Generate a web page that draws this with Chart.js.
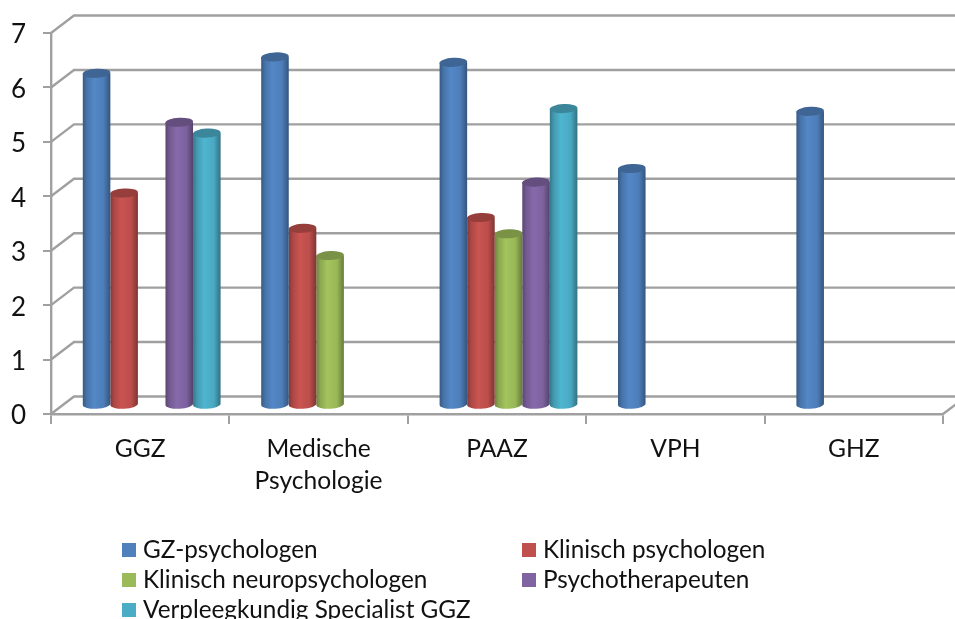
<!DOCTYPE html>
<html>
<head>
<meta charset="utf-8">
<script src="https://cdn.jsdelivr.net/npm/chart.js@4"></script>
<style>
    html, body { margin: 0; padding: 0; background: #fff; overflow: hidden; }
    #wrap { position: relative; width: 955px; height: 619px; overflow: hidden; }
    #legend span { position: absolute; font: 24.3px Lato, sans-serif; color: #111; line-height: 30px; white-space: nowrap; }
    #legend i { position: absolute; width: 14px; height: 14px; }
</style>
</head>
<body>
<div id="wrap">
    <canvas id="chart" width="955" height="619"></canvas>
    <div id="legend"></div>
</div>
<script>
const categories = [["GGZ"], ["Medische", "Psychologie"], ["PAAZ"], ["VPH"], ["GHZ"]];
const seriesNames = ["GZ-psychologen", "Klinisch psychologen", "Klinisch neuropsychologen", "Psychotherapeuten", "Verpleegkundig Specialist GGZ"];
const gzPsychologen = [6.1, 6.4, 6.3, 4.35, 5.4];
const klinischPsychologen = [3.9, 3.25, 3.45, null, null];
const klinischNeuro = [null, 2.75, 3.15, null, null];
const psychotherapeuten = [5.2, null, 4.1, null, null];
const verpleegkundig = [5.0, null, 5.45, null, null];
const seriesColors = ["#4F81BD", "#C0504D", "#9BBB59", "#8064A2", "#4BACC6"];

const allValues = [gzPsychologen, klinischPsychologen, klinischNeuro, psychotherapeuten, verpleegkundig];

// fake 3D depth of the old Excel chart
const depthX = 23, depthY = 17.5;
const gridColor = "#a0a0a0";

function shade(hex, f) {
    let n = parseInt(hex.slice(1), 16);
    let c = [n >> 16, (n >> 8) & 255, n & 255].map(v => Math.min(255, Math.round(v * f)));
    return `rgb(${c.join(",")})`;
}

const wallPlugin = {
    id: "wall",
    beforeDatasetsDraw(chart) {
        let { ctx, scales, chartArea } = chart;
        let y = scales.y;
        ctx.save();
        ctx.strokeStyle = gridColor;
        ctx.lineWidth = 2.4;
        y.ticks.forEach(t => {
            let py = y.getPixelForValue(t.value);
            ctx.beginPath();
            ctx.moveTo(chartArea.left, py);
            ctx.lineTo(chartArea.left + depthX, py - depthY);
            ctx.lineTo(chart.width, py - depthY);
            ctx.stroke();
        });
        let py0 = y.getPixelForValue(0);
        ctx.beginPath();
        ctx.moveTo(chartArea.right, py0);
        ctx.lineTo(chartArea.right + 16, py0 - 12);
        ctx.stroke();
        ctx.restore();
    }
};

const cylinderPlugin = {
    id: "cylinder",
    beforeDatasetDraw(chart, args) {
        let { ctx } = chart;
        let color = seriesColors[args.index];
        ctx.save();
        ctx.translate(depthX / 2, -depthY / 2);
        args.meta.data.forEach((bar, i) => {
            if (chart.data.datasets[args.index].data[i] == null) return;
            let left = bar.x - bar.width / 2, right = bar.x + bar.width / 2;
            let rx = bar.width / 2, ry = 4.5, tilt = -0.05;
            let g = ctx.createLinearGradient(left, 0, right, 0);
            g.addColorStop(0, shade(color, 0.7));
            g.addColorStop(0.15, shade(color, 0.9));
            g.addColorStop(0.4, shade(color, 1.05));
            g.addColorStop(0.75, shade(color, 0.98));
            g.addColorStop(1, shade(color, 0.66));
            ctx.fillStyle = g;
            ctx.beginPath();
            ctx.moveTo(left, bar.y);
            ctx.lineTo(left, bar.base);
            ctx.ellipse(bar.x, bar.base, rx, ry, tilt, Math.PI, 0, true);
            ctx.lineTo(right, bar.y);
            ctx.closePath();
            ctx.fill();
            ctx.fillStyle = shade(color, 0.78);
            ctx.beginPath();
            ctx.ellipse(bar.x, bar.y, rx, ry, tilt, 0, Math.PI * 2);
            ctx.fill();
        });
        ctx.restore();
        return false;
    }
};

const chart = new Chart(document.getElementById("chart").getContext("2d"), {
    type: "bar",
    data: {
        labels: categories,
        datasets: seriesNames.map((name, i) => ({
            label: name,
            data: allValues[i],
            backgroundColor: seriesColors[i],
            categoryPercentage: 0.7725,
            barPercentage: 1
        }))
    },
    options: {
        responsive: false,
        animation: false,
        layout: { padding: { top: 33, right: 12, left: 0, bottom: 0 } },
        plugins: { legend: { display: false }, tooltip: { enabled: false } },
        scales: {
            x: {
                afterFit: s => { s.height = 205; },
                border: { color: gridColor, width: 2.4 },
                grid: { drawOnChartArea: false, color: gridColor, lineWidth: 2, tickLength: 10 },
                ticks: {
                    color: "#111",
                    padding: 9,
                    maxRotation: 0,
                    font: { family: "Lato", size: 24.6, lineHeight: 1.3 }
                }
            },
            y: {
                min: 0,
                max: 7,
                afterFit: s => {
                    s.width = 51;
                    // Lato sits a little high, push the digits down to match
                    if (!s.shiftedLabels) {
                        s.shiftedLabels = true;
                        let drawLabels = s.drawLabels;
                        s.drawLabels = function (area) {
                            this.ctx.save();
                            this.ctx.translate(0, 2);
                            drawLabels.call(this, area);
                            this.ctx.restore();
                        };
                    }
                },
                border: { color: gridColor, width: 2.4 },
                grid: { drawOnChartArea: false, color: gridColor, lineWidth: 2, tickLength: 8 },
                ticks: {
                    stepSize: 1,
                    color: "#111",
                    padding: 17,
                    font: { family: "Lato", size: 26 }
                }
            }
        }
    },
    plugins: [wallPlugin, cylinderPlugin]
});

// legend is laid out in two columns by hand, Chart.js cannot do this arrangement
const legendSpots = [[122, 550], [522, 550], [122, 579.5], [522, 579.5], [122, 609.5]];
const legendEl = document.getElementById("legend");
chart.options.plugins.legend.labels.generateLabels(chart).forEach((item, i) => {
    let [x, y] = legendSpots[i];
    legendEl.innerHTML += `<i style="left:${x}px;top:${y - 7}px;background:${item.fillStyle}"></i>` +
        `<span style="left:${x + 21}px;top:${y - 16}px">${item.text}</span>`;
});
</script>
</body>
</html>
